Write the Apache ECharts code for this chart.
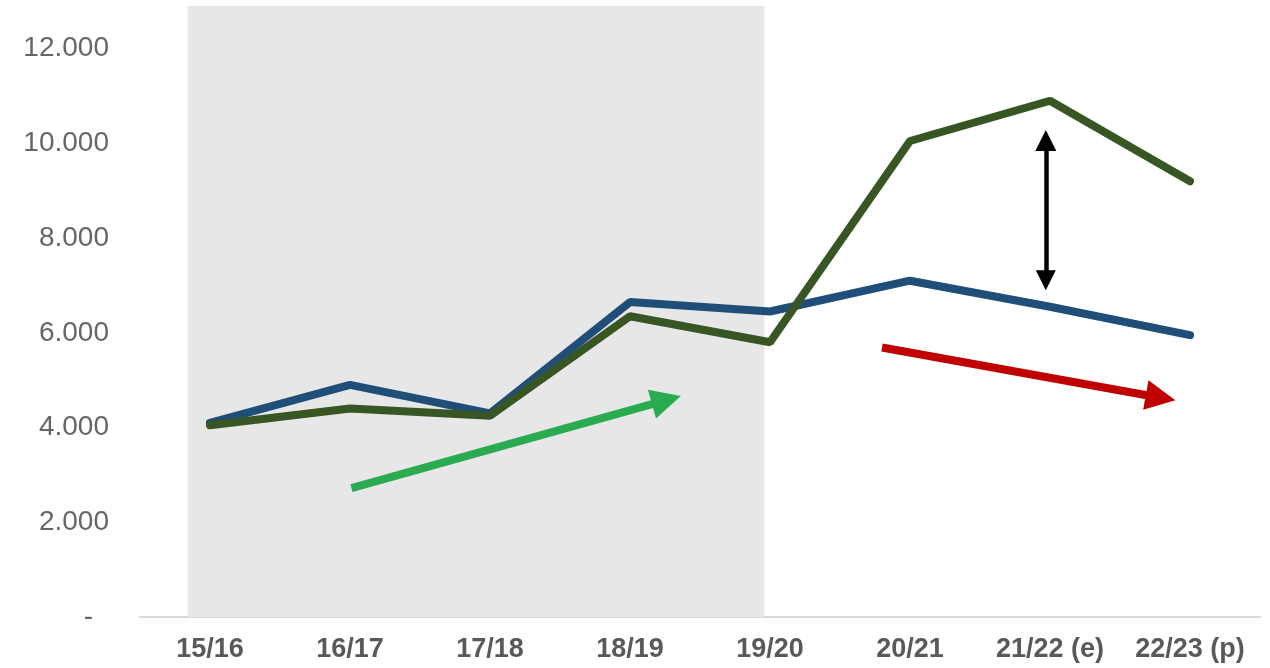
<!DOCTYPE html>
<html>
<head>
<meta charset="utf-8">
<script src="https://cdn.jsdelivr.net/npm/echarts@6/dist/echarts.min.js"></script>
<style>
  html, body { margin: 0; padding: 0; background: #fff; }
  #chart { width: 1270px; height: 668px; }
</style>
</head>
<body>
<div id="chart"></div>
<script>
const categories = ['15/16', '16/17', '17/18', '18/19', '19/20', '20/21', '21/22 (e)', '22/23 (p)']
const blueValues = [4100, 4900, 4300, 6650, 6450, 7100, 6550, 5950]
const greenValues = [4050, 4400, 4250, 6350, 5800, 10050, 10900, 9200]

// annotation positions in data units (x = category index, y = value)
const shadeRange = [-0.16, 3.96]
const greenArrow = [[1.01, 2720], [3.26, 4580]]
const redArrow = [[4.8, 5690], [6.79, 4630]]
const gapArrow = [[5.97, 10060], [5.97, 7110]]

const chart = echarts.init(document.getElementById('chart'))

function arrow(coords, color, width, both) {
  return {
    coords: coords,
    symbol: both ? ['triangle', 'triangle'] : ['none', 'triangle'],
    symbolSize: both ? [21, 20] : [30, 30],
    lineStyle: { color: color, width: width, opacity: 1 },
    itemStyle: { color: color }
  }
}

const option = {
  animation: false,
  grid: { left: 140, right: 10, top: 6, bottom: 51 },
  xAxis: [
    {
      type: 'category',
      data: categories,
      boundaryGap: true,
      axisLine: { lineStyle: { color: '#d9d9d9', width: 2 } },
      axisTick: { show: false },
      axisLabel: {
        interval: 0,
        margin: 19,
        fontSize: 27,
        fontWeight: 'bold',
        color: '#595959',
        fontFamily: 'Liberation Sans, Arial, sans-serif'
      }
    },
    { type: 'value', min: -0.5, max: 7.5, show: false }
  ],
  yAxis: {
    type: 'value',
    min: 0,
    max: 12900,
    interval: 2000,
    splitLine: { show: false },
    axisLine: { show: false },
    axisTick: { show: false },
    axisLabel: {
      margin: 31,
      fontSize: 28,
      color: '#666666',
      fontFamily: 'Liberation Sans, Arial, sans-serif',
      showMaxLabel: false,
      formatter: (v) => {
        if (v === 0) return '{z|-}'
        if (v % 2000 !== 0) return ''
        return (v / 1000).toFixed(0) + '.000'
      },
      rich: { z: { fontSize: 28, color: '#666666', padding: [0, 16, 0, 0] } }
    }
  },
  series: [
    {
      type: 'line',
      xAxisIndex: 1,
      data: [],
      silent: true,
      markArea: {
        silent: true,
        itemStyle: { color: '#e7e7e7' },
        data: [[{ xAxis: shadeRange[0] }, { xAxis: shadeRange[1] }]]
      }
    },
    {
      type: 'lines',
      coordinateSystem: 'cartesian2d',
      xAxisIndex: 1,
      yAxisIndex: 0,
      z: 3,
      data: [
        arrow(greenArrow, '#2bab51', 8, false),
        arrow(redArrow, '#c00000', 8, false),
        arrow(gapArrow, '#000000', 4.5, true)
      ]
    },
    {
      type: 'line',
      data: blueValues,
      showSymbol: false,
      z: 4,
      lineStyle: { color: '#1f4e79', width: 8, cap: 'round' }
    },
    {
      type: 'line',
      data: greenValues,
      showSymbol: false,
      z: 5,
      lineStyle: { color: '#375623', width: 8, cap: 'round' }
    }
  ]
}

chart.setOption(option)
</script>
</body>
</html>
